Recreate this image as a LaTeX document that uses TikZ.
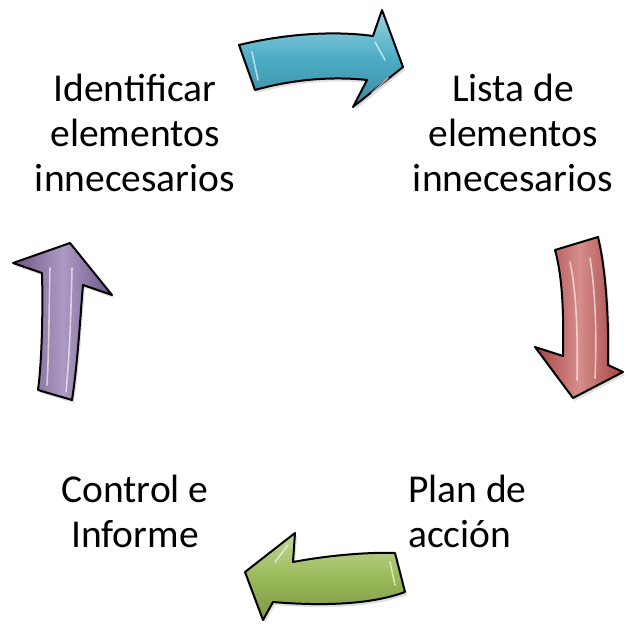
\documentclass[tikz,border=0pt]{standalone}
\usepackage{fontspec}
\setmainfont{Carlito}
\usetikzlibrary{shadows}
\definecolor{acyan}{HTML}{4BACC6}
\definecolor{ared}{HTML}{C0504D}
\definecolor{agreen}{HTML}{9BBB59}
\definecolor{apurple}{HTML}{8064A2}
\tikzset{
  arrowshape/.style={draw=black, line width=2pt, line join=round,
    drop shadow={shadow xshift=2pt, shadow yshift=-3pt, opacity=0.25}},
  gloss/.style={white, line width=1.6pt, line cap=round, opacity=0.6},
  lbl/.style={font=\fontsize{39.5}{45}\selectfont, align=center, inner sep=0pt}
}
\begin{document}
\begin{tikzpicture}[x=1pt, y=-1pt]
\useasboundingbox (0,0) rectangle (625,630);
\fill[white] (0,0) rectangle (625,630);
% top arrow (cyan)
\path[arrowshape, top color=acyan!55!white, bottom color=acyan!80!black, middle color=acyan]
  (239,45) .. controls (280,35) and (330,30) .. (373,36) -- (382,10) -- (403,67) -- (353,107) -- (367,80)
  .. controls (330,76) and (290,80) .. (255,90) -- cycle;
\draw[gloss] (252,52) -- (258,80);
\draw[gloss] (375,42) -- (385,60);
\draw[gloss] (372,93) -- (388,78);
% right arrow (red)
\path[arrowshape, left color=ared!85!black, right color=ared!85!black, middle color=ared!65!white]
  (555,250) -- (598,237) .. controls (606,270) and (609,320) .. (608,365) -- (623,372) -- (573,398)
  -- (535,347) -- (563,356) .. controls (564,310) and (562,275) .. (555,250) -- cycle;
\draw[gloss] (570,262) .. controls (576,290) and (578,330) .. (577,380);
\draw[gloss] (590,258) .. controls (595,290) and (597,330) .. (595,378);
% bottom arrow (green)
\path[arrowshape, top color=agreen!60!white, bottom color=agreen!80!black, middle color=agreen]
  (395,553) -- (405,592) .. controls (370,605) and (320,606) .. (273,602) -- (263,620) -- (245,572)
  -- (295,533) -- (293,562) .. controls (330,555) and (370,552) .. (395,553) -- cycle;
\draw[gloss] (288,545) -- (275,562);
\draw[gloss] (390,562) -- (395,585);
% left arrow (purple)
\path[arrowshape, left color=apurple!85!black, right color=apurple!85!black, middle color=apurple!65!white]
  (70,243) -- (112,295) -- (83,285) .. controls (80,320) and (78,360) .. (72,400) -- (38,390)
  .. controls (42,360) and (43,310) .. (42,273) -- (13,263) -- cycle;
\draw[gloss] (50,268) .. controls (49,310) and (49,350) .. (47,385);
\draw[gloss] (72,268) .. controls (71,310) and (70,350) .. (66,392);
% labels
\node[lbl] (n1) at (135,133) {Identificar\\elementos\\innecesarios};
\node[lbl] (n2) at (513,133) {Lista de\\elementos\\innecesarios};
\node[lbl, align=left, anchor=west] (n3) at (408,511) {Plan de\\acción};
\node[lbl] (n4) at (135,511) {Control e\\Informe};
\end{tikzpicture}
\end{document}
